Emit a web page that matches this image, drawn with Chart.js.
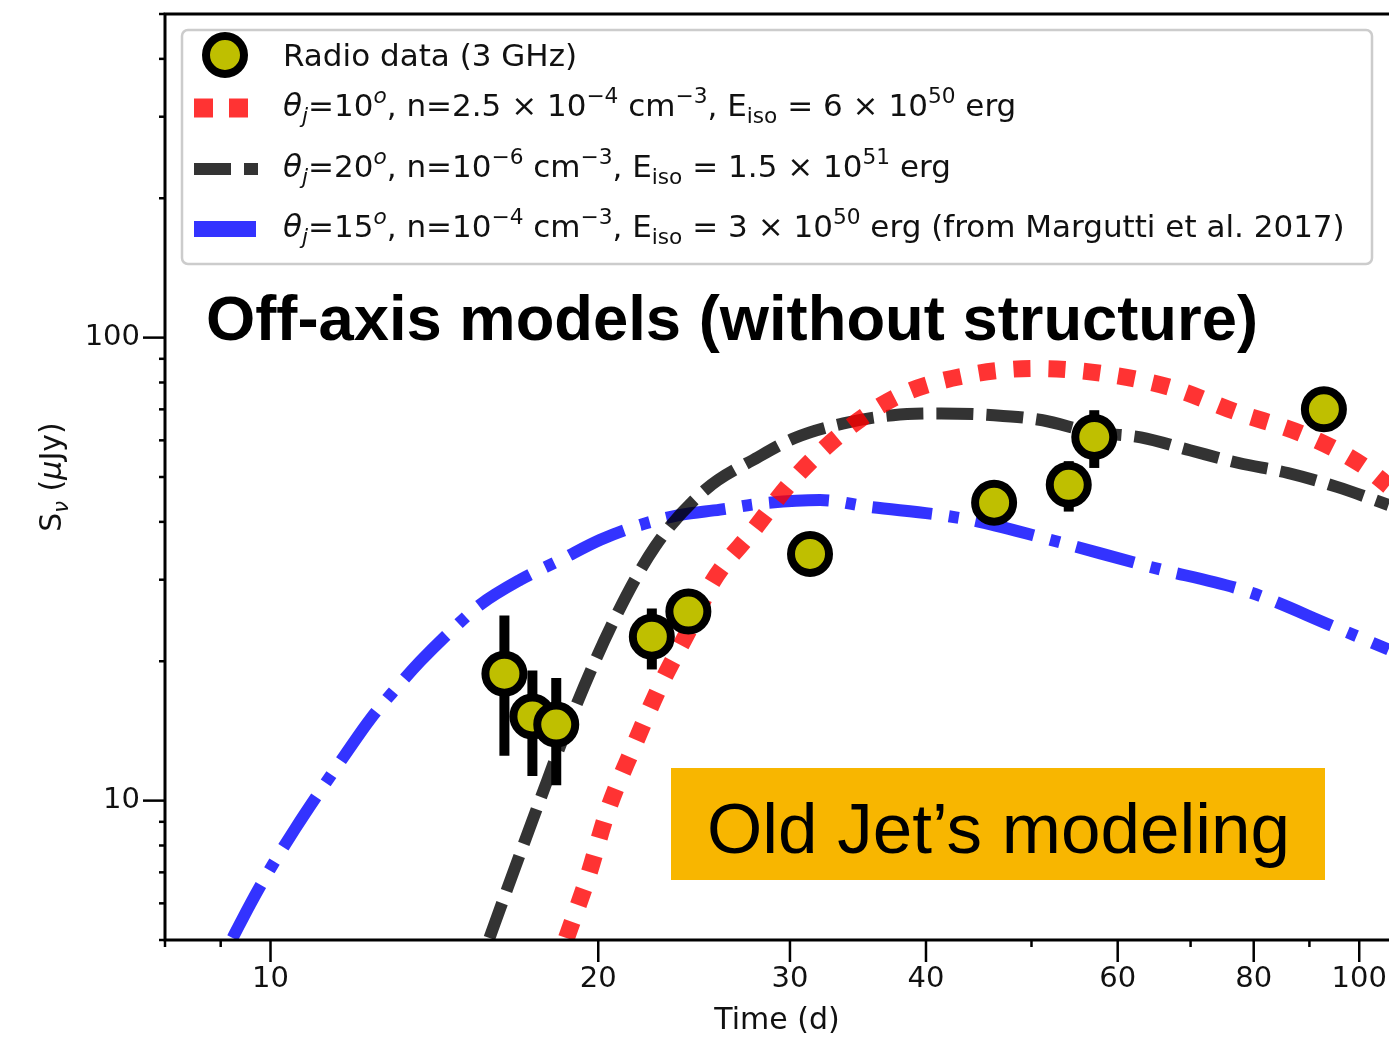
<!DOCTYPE html>
<html>
<head>
<meta charset="utf-8">
<title>Off-axis models</title>
<script src="https://cdn.jsdelivr.net/npm/chart.js@4.4.1/dist/chart.umd.min.js"></script>
<style>
  html, body { margin: 0; padding: 0; background: #fff; }
  #wrap { width: 1389px; height: 1041px; position: relative; }
</style>
</head>
<body>
<div id="wrap"><canvas id="lightCurve"></canvas></div>
<script>
// radio data, 3 GHz
const radioDays = [16.4, 17.4, 18.3, 22.4, 24.2, 31.3, 46.2, 54.1, 57.1, 92.8];
const radioFlux = [18.8, 15.2, 14.6, 22.6, 25.6, 34.1, 44.0, 48.1, 61.0, 70.0];
const radioErr = [6.3, 3.9, 3.8, 3.4, 1.5, 2.5, 3.0, 6.0, 8.7, 5.0];

// theta_j = 10
const redDays = [18.7, 19.55, 20.4, 21.5, 22.8, 24.5, 25.45, 27.8, 30.2, 33.5, 37.8, 43.5, 50.4, 58.0, 67.0, 77.2, 89.3, 100.7, 106.4];
const redFlux = [5.05, 6.8, 9.5, 12.9, 17.7, 24.6, 29.6, 38.5, 49.3, 62.2, 75.0, 82.8, 85.8, 83.7, 78.1, 69.0, 61.5, 53.0, 47.8];

// theta_j = 20
const blackDays = [15.89, 16.5, 17.66, 18.97, 20.69, 22.56, 25.08, 28.05, 30.3, 33.6, 37.3, 41.3, 46.2, 51.2, 56.8, 63.0, 69.9, 77.5, 86.0, 95.4, 106.4];
const blackFlux = [5.05, 6.45, 9.95, 15.5, 24.6, 35.4, 46.9, 55.2, 60.7, 65.3, 68.0, 68.6, 68.0, 66.3, 62.5, 60.9, 57.1, 53.6, 51.0, 47.6, 43.5];

// theta_j = 15 (Margutti et al. 2017)
const blueDays = [9.23, 9.59, 10.0, 10.54, 11.11, 11.72, 12.35, 13.02, 13.73, 14.63, 15.58, 16.96, 18.46, 20.09, 21.86, 23.79, 25.88, 28.17, 31.97, 35.5, 41.2, 44.8, 52.0, 64.2, 79.3, 94.6, 106.4];
const blueFlux = [5.05, 6.0, 7.14, 8.71, 10.5, 12.6, 15.0, 17.4, 20.0, 23.2, 26.5, 30.0, 33.1, 36.6, 39.4, 41.4, 42.5, 43.8, 44.6, 43.1, 41.4, 40.0, 36.6, 32.0, 28.2, 23.8, 21.2];

const xMajor = [10, 20, 30, 40, 60, 80, 100];
const xMinor = [8, 9, 50, 70, 90];
const yMajor = [10, 100];
const yMinor = [5, 6, 7, 8, 9, 20, 30, 40, 50, 60, 70, 80, 90, 200, 300, 400, 500];

const seriesLabels = [
  "Radio data (3 GHz)",
  "*θ*_{*j*}=10^{*o*}, n=2.5 × 10^{−4} cm^{−3}, E_{iso} = 6 × 10^{50} erg",
  "*θ*_{*j*}=20^{*o*}, n=10^{−6} cm^{−3}, E_{iso} = 1.5 × 10^{51} erg",
  "*θ*_{*j*}=15^{*o*}, n=10^{−4} cm^{−3}, E_{iso} = 3 × 10^{50} erg (from Margutti et al. 2017)",
];
const yTitle = "S_{*ν*} (*μ*Jy)";
const headline = "Off-axis models (without structure)";
const boxNote = "Old Jet’s modeling";

const pts = (xs, ys) => xs.map((v, i) => ({ x: v, y: ys[i] }));

// small mathtext-like renderer: ^{} sup, _{} sub, *..* italic
function rich(ctx, src, x, y, size, draw) {
  let cx = x;
  src.split(/(\^\{[^}]*\}|_\{[^}]*\})/).forEach((p) => {
    if (!p) return;
    let txt = p, sz = size, dy = 0;
    if (p.startsWith("^{")) { txt = p.slice(2, -1); sz = size * 0.7; dy = -size * 0.42; }
    else if (p.startsWith("_{")) { txt = p.slice(2, -1); sz = size * 0.7; dy = size * 0.22; }
    txt.split("*").forEach((run, k) => {
      if (!run) return;
      ctx.font = (k % 2 ? "italic " : "") + sz + 'px "DejaVu Sans"';
      if (draw) ctx.fillText(run, cx, y + dy);
      cx += ctx.measureText(run).width;
    });
  });
  return cx - x;
}

function fitText(ctx, txt, font, x, base, width) {
  ctx.save();
  ctx.font = font;
  const w = ctx.measureText(txt).width;
  ctx.translate(x, base);
  ctx.scale(width / w, 1);
  ctx.textBaseline = "alphabetic";
  ctx.fillText(txt, 0, 0);
  ctx.restore();
}

const decor = {
  id: "decor",
  beforeDatasetDraw(chart, args) {
    if (args.index !== 0) return;
    const { ctx, scales: { x, y } } = chart;
    ctx.save();
    ctx.strokeStyle = "#000";
    ctx.lineWidth = 10;
    radioDays.forEach((d, i) => {
      const px = x.getPixelForValue(d);
      ctx.beginPath();
      ctx.moveTo(px, y.getPixelForValue(radioFlux[i] - radioErr[i]));
      ctx.lineTo(px, y.getPixelForValue(radioFlux[i] + radioErr[i]));
      ctx.stroke();
    });
    ctx.restore();
  },
  afterDraw(chart) {
    const { ctx, chartArea: a, scales: { x, y } } = chart;
    ctx.save();
    // spines
    ctx.strokeStyle = "#000";
    ctx.lineWidth = 3;
    ctx.beginPath();
    ctx.moveTo(a.right + 2, a.top);
    ctx.lineTo(a.left, a.top);
    ctx.lineTo(a.left, a.bottom);
    ctx.lineTo(a.right + 2, a.bottom);
    ctx.stroke();
    // ticks
    ctx.lineWidth = 2.5;
    const tick = (list, len, horiz) => list.forEach((v) => {
      ctx.beginPath();
      if (horiz) {
        const px = x.getPixelForValue(v);
        ctx.moveTo(px, a.bottom);
        ctx.lineTo(px, a.bottom + len);
      } else {
        const py = y.getPixelForValue(v);
        ctx.moveTo(a.left, py);
        ctx.lineTo(a.left - len, py);
      }
      ctx.stroke();
    });
    tick(xMajor, 22, true);
    tick(xMinor, 7, true);
    tick(yMajor, 22, false);
    tick(yMinor, 6, false);

    // legend
    ctx.beginPath();
    ctx.roundRect(182, 30, 1190, 234, 6);
    ctx.fillStyle = "rgba(255,255,255,0.8)";
    ctx.fill();
    ctx.strokeStyle = "#cccccc";
    ctx.lineWidth = 2.5;
    ctx.stroke();
    const rows = [
      { cy: 55, base: 66 },
      { cy: 108, base: 116, lw: 19, dash: [19, 16] },
      { cy: 169, base: 177, lw: 12, dash: [37, 13] },
      { cy: 229, base: 237, lw: 16, dash: [62, 16, 10, 16] },
    ];
    chart.data.datasets.forEach((ds, i) => {
      const r = rows[i];
      if (i === 0) {
        ctx.beginPath();
        ctx.arc(225, r.cy, 19, 0, Math.PI * 2);
        ctx.fillStyle = ds.pointBackgroundColor;
        ctx.fill();
        ctx.lineWidth = 8;
        ctx.strokeStyle = "#000";
        ctx.stroke();
      } else {
        ctx.beginPath();
        ctx.setLineDash(r.dash);
        ctx.lineWidth = r.lw;
        ctx.lineCap = "butt";
        ctx.strokeStyle = ds.borderColor;
        ctx.moveTo(194, r.cy);
        ctx.lineTo(258, r.cy);
        ctx.stroke();
        ctx.setLineDash([]);
      }
      ctx.fillStyle = "#111";
      ctx.textBaseline = "alphabetic";
      rich(ctx, ds.label, 283, r.base, 31, true);
    });

    // y title
    ctx.save();
    ctx.translate(50, (a.top + a.bottom) / 2);
    ctx.rotate(-Math.PI / 2);
    ctx.fillStyle = "#111";
    const w = rich(ctx, yTitle, 0, 0, 30, false);
    rich(ctx, yTitle, -w / 2, 11, 30, true);
    ctx.restore();

    // annotations
    ctx.fillStyle = "#000";
    fitText(ctx, headline, 'bold 63px "Liberation Sans"', 206, 340, 1052);
    ctx.fillStyle = "#f8b600";
    ctx.fillRect(671, 768, 654, 112);
    ctx.fillStyle = "#000";
    fitText(ctx, boxNote, '70px "Liberation Sans"', 707, 853, 583);
    ctx.restore();
  },
};

const lineStyle = (color, width, dash) => ({
  borderColor: color,
  borderWidth: width,
  borderDash: dash,
  borderCapStyle: "butt",
  pointRadius: 0,
  fill: false,
  cubicInterpolationMode: "monotone",
  clip: 0,
});

new Chart(document.getElementById("lightCurve"), {
  type: "line",
  data: {
    datasets: [
      {
        type: "scatter",
        label: seriesLabels[0],
        data: pts(radioDays, radioFlux),
        pointRadius: 19,
        pointBorderWidth: 8,
        pointBackgroundColor: "#bfbf00",
        pointBorderColor: "#000",
        showLine: false,
      },
      { label: seriesLabels[1], data: pts(redDays, redFlux), ...lineStyle("rgba(255,0,0,0.8)", 17, [17, 18]) },
      { label: seriesLabels[2], data: pts(blackDays, blackFlux), ...lineStyle("rgba(0,0,0,0.8)", 12, [37, 13]) },
      { label: seriesLabels[3], data: pts(blueDays, blueFlux), ...lineStyle("rgba(0,0,255,0.8)", 12, [60, 17, 10, 17]) },
    ],
  },
  options: {
    responsive: true,
    maintainAspectRatio: false,
    animation: false,
    events: [],
    layout: { autoPadding: false, padding: { top: 14, left: 0, right: 0, bottom: 0 } },
    plugins: { legend: { display: false }, tooltip: { enabled: false } },
    scales: {
      x: {
        type: "logarithmic",
        min: 8,
        max: 106.5,
        afterBuildTicks: (s) => {
          s.ticks = [...xMinor, ...xMajor].sort((p, q) => p - q).map((v) => ({ value: v }));
        },
        afterFit: (s) => {
          s.height = 101;
          s.paddingLeft = 0;
          s.paddingRight = 0;
        },
        ticks: {
          autoSkip: false,
          maxRotation: 0,
          minRotation: 0,
          padding: 2,
          color: "#111",
          font: { family: "DejaVu Sans", size: 29 },
          callback: (v) => (xMajor.includes(v) ? String(v) : ""),
        },
        grid: { display: true, drawOnChartArea: false, drawTicks: true, tickLength: 20, color: "rgba(0,0,0,0)" },
        border: { display: false },
        title: {
          display: true,
          text: "Time (d)",
          color: "#111",
          font: { family: "DejaVu Sans", size: 30 },
          padding: { top: 0, bottom: 2 },
        },
      },
      y: {
        type: "logarithmic",
        min: 5,
        max: 500,
        afterBuildTicks: (s) => {
          s.ticks = [...yMinor, ...yMajor].sort((p, q) => p - q).map((v) => ({ value: v }));
        },
        afterFit: (s) => {
          s.width = 165;
          s.paddingTop = 0;
          s.paddingBottom = 0;
        },
        ticks: {
          autoSkip: false,
          padding: 3,
          color: "#111",
          font: { family: "DejaVu Sans", size: 29 },
          callback: (v) => (yMajor.includes(v) ? String(v) : ""),
        },
        grid: { display: true, drawOnChartArea: false, drawTicks: true, tickLength: 22, color: "rgba(0,0,0,0)" },
        border: { display: false },
      },
    },
  },
  plugins: [decor],
});
</script>
</body>
</html>
